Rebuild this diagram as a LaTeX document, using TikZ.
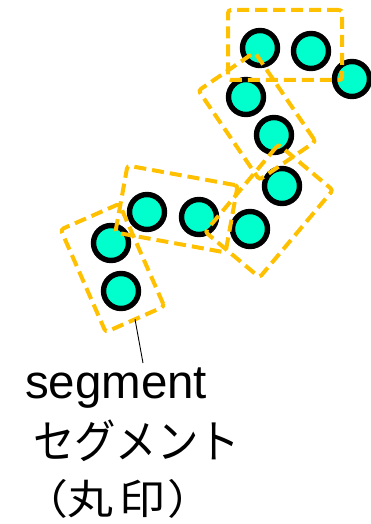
\documentclass[tikz,border=0pt]{standalone}
\usepackage{fontspec}
\setmainfont{Liberation Sans}
\newfontfamily\jpfont{Noto Sans CJK JP}
\definecolor{segorange}{HTML}{FFC000}
\definecolor{dotfill}{HTML}{00FFCC}
\tikzset{
  dot/.style={circle, draw=black, line width=5.4pt, fill=dotfill, minimum size=35pt, inner sep=0pt, outer sep=0pt},
  segbox/.style={rectangle, draw=segorange, line width=4pt, dash pattern=on 12pt off 6pt, rounded corners=3pt, inner sep=0pt, outer sep=0pt},
  leader/.style={draw=black, line width=0.9pt},
  lbl/.style={anchor=base west, inner sep=0pt, outer sep=0pt}
}
\begin{document}
\begin{tikzpicture}[x=1pt,y=1pt]
\useasboundingbox (0,0) rectangle (370,-524);
% dots
\node[dot] (c1) at (260,-48) {};
\node[dot] (c2) at (311,-51) {};
\node[dot] (c3) at (352,-79) {};
\node[dot] (c4) at (246,-97) {};
\node[dot] (c5) at (274,-135) {};
\node[dot] (c6) at (282,-186) {};
\node[dot] (c7) at (250,-229) {};
\node[dot] (c8) at (199,-217) {};
\node[dot] (c9) at (147,-212) {};
\node[dot] (c10) at (111,-243) {};
\node[dot] (c11) at (121,-291) {};
% segment boxes
\node[segbox, minimum width=114pt, minimum height=70pt] (b1) at (285,-45) {};
\node[segbox, minimum width=108pt, minimum height=68pt, rotate=-55.7] (b2) at (257,-116) {};
\node[segbox, minimum width=114pt, minimum height=71pt, rotate=50] (b3) at (269,-211) {};
\node[segbox, minimum width=112pt, minimum height=68pt, rotate=-10.3] (b4) at (176.5,-209) {};
\node[segbox, minimum width=112pt, minimum height=64pt, rotate=-66.3] (b5) at (112.5,-268) {};
% label
\coordinate (tip) at (143,-363);
\draw[leader] (b5.east) -- (tip);
\node[lbl, font=\fontsize{47.5}{50}\selectfont] (t1) at (25,-398) {segment};
\node[lbl, font=\jpfont\fontsize{46}{50}\selectfont] (t2) at (33,-458) {\scalebox{0.9}[1]{セグメント}};
\node[lbl, font=\jpfont\fontsize{41}{46}\selectfont] (t3) at (22,-514) {\scalebox{1.12}[1]{（丸\kern5pt 印\kern2pt ）}};
\end{tikzpicture}
\end{document}
